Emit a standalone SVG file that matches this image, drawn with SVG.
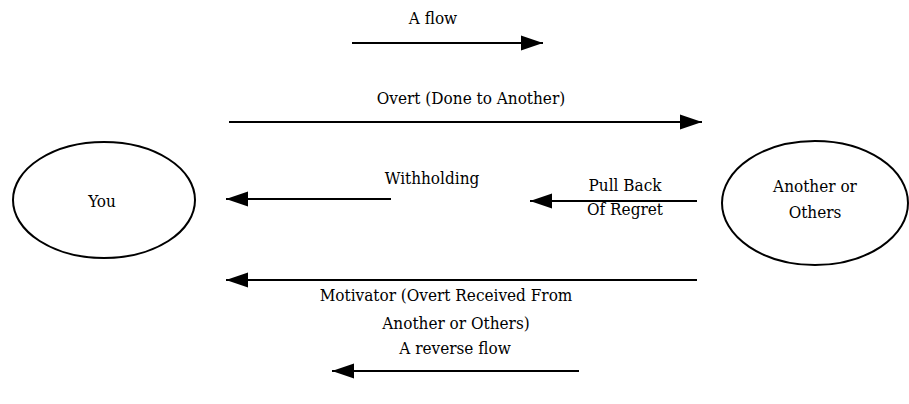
<svg xmlns="http://www.w3.org/2000/svg" width="909" height="404" viewBox="0 0 909 404">
<style>
.node{fill:none;stroke:#000;stroke-width:2}
.conn{stroke:#000;stroke-width:2;fill:none}
text{font-family:"DejaVu Serif Condensed","DejaVu Serif",serif;font-stretch:condensed;font-size:17px;fill:#000;text-anchor:middle}
</style>
<defs>
<marker id="ah" markerWidth="22" markerHeight="16" refX="22" refY="8" orient="auto" markerUnits="userSpaceOnUse">
<path d="M0,0.5 L22,8 L0,15.5 Z" fill="#000"/>
</marker>
</defs>
<rect width="909" height="404" fill="#fff"/>
<g id="you">
<ellipse class="node" cx="104" cy="200" rx="91" ry="58"/>
<text x="102" y="207">You</text>
</g>
<g id="others">
<ellipse class="node" cx="815" cy="203" rx="93" ry="62"/>
<text x="815" y="192">Another or</text>
<text x="815" y="218">Others</text>
</g>
<g id="connectors">
<line class="conn" x1="352" y1="43" x2="543" y2="43" marker-end="url(#ah)"/>
<line class="conn" x1="229" y1="122" x2="702" y2="122" marker-end="url(#ah)"/>
<line class="conn" x1="391" y1="199" x2="226" y2="199" marker-end="url(#ah)"/>
<line class="conn" x1="697" y1="201" x2="530" y2="201" marker-end="url(#ah)"/>
<line class="conn" x1="697" y1="280" x2="226" y2="280" marker-end="url(#ah)"/>
<line class="conn" x1="579" y1="371" x2="332" y2="371" marker-end="url(#ah)"/>
</g>
<g id="labels">
<text x="433" y="24">A flow</text>
<text x="471" y="104">Overt (Done to Another)</text>
<text x="432" y="184">Withholding</text>
<text x="625" y="191">Pull Back</text>
<text x="625" y="215">Of Regret</text>
<text x="446" y="301">Motivator (Overt Received From</text>
<text x="456" y="329">Another or Others)</text>
<text x="455" y="354">A reverse flow</text>
</g>
</svg>
